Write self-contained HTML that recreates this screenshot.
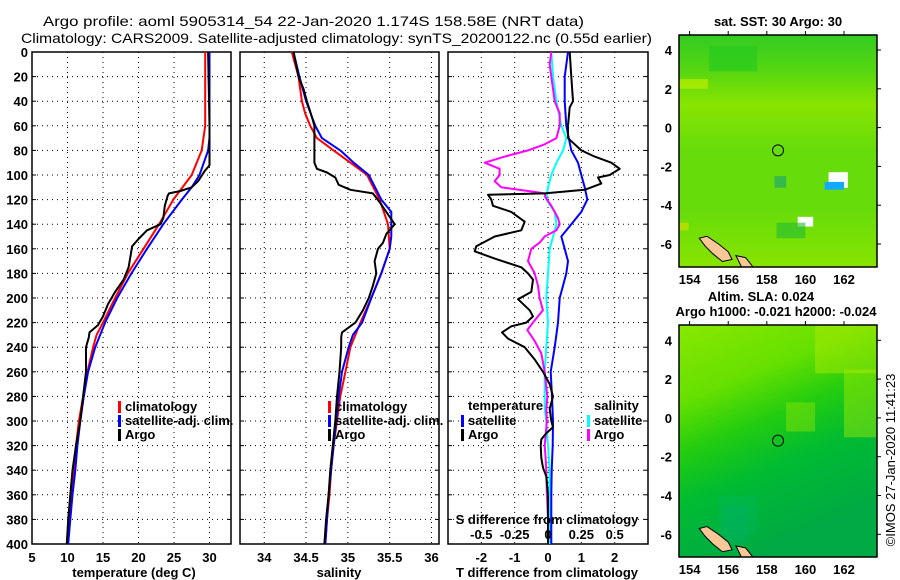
<!DOCTYPE html>
<html><head><meta charset="utf-8"><style>
body{margin:0;background:#fff}
svg{display:block;font-family:"Liberation Sans",sans-serif}
.t{font-size:13px;font-weight:bold}
</style></head><body>
<svg id="c" width="900" height="580" viewBox="0 0 900 580">
<text x="43" y="26" font-size="14" textLength="541" lengthAdjust="spacingAndGlyphs">Argo profile: aoml 5905314_54 22-Jan-2020 1.174S 158.58E (NRT data)</text>
<text x="21" y="43" font-size="14" textLength="631" lengthAdjust="spacingAndGlyphs">Climatology: CARS2009. Satellite-adjusted climatology: synTS_20200122.nc (0.55d earlier)</text>
<g id="g"></g>
</svg>
<script>
// depth grids
const tDep=[0,60,80,100,120,140,160,180,200,220,230,240,260,280,300,320,340,360,380,400];
const tClim=[29.4,29.4,28.9,27.5,24.9,22.9,20.7,18.5,16.7,15.0,14.1,13.6,12.8,12.2,11.6,11.2,10.9,10.6,10.2,9.9];
const tSatDep=[0,70,80,100,110,120,140,160,180,200,220,240,260,280,300,320,340,360,380,400];
const tSat=[30.0,30.0,29.8,28.6,27.5,26.1,23.5,21.2,19.0,17.0,15.3,13.9,12.9,12.3,11.8,11.4,11.1,10.7,10.4,10.1];
const tArgoDep=[0,60,92,97,105,110,113,115,117,125,135,140,145,152,158,165,175,185,195,205,215,222,228,232,240,260,280,300,320,340,360,380,400];
const tArgo=[29.8,30.0,30.0,29.3,28.4,27.5,25.9,24.3,24.1,23.7,23.5,23.1,21.2,20.0,19.1,18.9,18.6,17.9,16.7,15.7,15.0,14.3,13.1,13.0,12.6,12.6,12.2,11.8,11.2,10.7,10.4,10.1,9.9];
const sDep=[0,20,40,50,60,70,80,90,100,120,140,160,180,200,220,230,240,260,280,300,320,340,360,380,400];
const sClim=[34.33,34.41,34.45,34.49,34.55,34.63,34.83,35.03,35.23,35.38,35.48,35.50,35.40,35.28,35.15,35.09,35.03,34.97,34.91,34.87,34.83,34.80,34.78,34.75,34.73];
const sSatDep=[0,20,40,60,70,80,90,100,120,130,140,150,160,180,200,220,230,240,260,280,300,320,340,360,380,400];
const sSat=[34.35,34.42,34.50,34.61,34.69,34.91,35.07,35.25,35.40,35.52,35.52,35.52,35.50,35.40,35.28,35.17,35.06,35.01,34.93,34.89,34.86,34.83,34.80,34.77,34.75,34.73];
const sArgoDep=[0,20,30,40,55,60,90,95,98,102,108,112,115,122,130,140,148,155,160,170,180,190,200,210,220,228,232,240,260,280,300,320,340,360,380,400];
const sArgo=[34.35,34.41,34.47,34.51,34.58,34.60,34.60,34.63,34.75,34.85,34.89,35.03,35.30,35.38,35.46,35.56,35.46,35.42,35.36,35.32,35.34,35.30,35.25,35.18,35.09,34.93,34.92,34.92,34.90,34.87,34.85,34.82,34.79,34.77,34.74,34.72];
const dTSatDep=[0,20,40,60,80,90,100,110,120,130,140,150,160,170,180,190,200,220,240,260,280,300,320,340,360,400];
const dTSat=[0.6,0.5,0.5,0.55,0.7,0.9,1.0,1.1,1.18,1.0,0.7,0.4,0.5,0.6,0.55,0.45,0.35,0.3,0.2,0.08,0.12,0.15,0.14,0.11,0.1,0.1];
const dTArgoDep=[0,20,40,45,60,70,75,80,85,90,95,100,102,107,112,115,116,120,125,130,138,145,150,158,162,168,175,180,185,195,201,210,215,220,223,228,233,240,250,260,270,280,290,300,305,310,315,320,330,338,345,360,400];
const dTArgo=[0.65,0.7,0.75,0.65,0.6,0.6,0.8,1.0,1.4,1.9,2.15,1.85,1.5,1.6,1.1,-0.1,-1.8,-1.7,-1.65,-1.1,-0.7,-0.8,-1.6,-2.15,-2.2,-1.6,-0.8,-0.6,-0.45,-0.5,-0.9,-0.55,-0.45,-0.65,-1.1,-1.38,-1.2,-0.7,-0.4,-0.15,0.05,0.15,0.05,0.1,0.15,-0.05,-0.2,-0.22,-0.2,-0.15,-0.05,0,0];
const dSSatDep=[0,20,40,60,70,80,90,100,110,120,130,140,150,160,180,200,220,240,260,280,290,300,320,340,360,400];
const dSSat=[0.025,0.038,0.063,0.1,0.138,0.113,0.063,0.025,0,-0.013,0.05,0.063,0.038,0.013,0,-0.013,0,-0.013,-0.025,-0.025,-0.025,-0.013,0,0.013,0.01,0.013];
const dSArgoDep=[0,10,20,40,50,60,70,75,80,85,90,95,100,105,110,113,115,118,125,130,135,140,145,150,155,160,170,180,190,200,210,220,226,235,245,260,280,290,300,320,330,340,360,380,400];
const dSArgo=[0.025,0.013,0.025,0.05,0.088,0.088,0.063,-0.025,-0.15,-0.325,-0.475,-0.363,-0.363,-0.4,-0.35,-0.15,-0.025,-0.02,0.025,0.05,0.075,0.088,0.063,-0.025,-0.063,-0.125,-0.15,-0.1,-0.075,-0.063,-0.038,-0.113,-0.155,-0.1,-0.05,-0.025,-0.005,-0.013,-0.008,-0.025,-0.018,-0.013,-0.008,0,0];
const tTicks=[5,10,15,20,25,30];
const sTicks=[34,34.5,35,35.5,36];
const dTicks=[-2,-1,0,1,2];
const dSTicks=[-0.5,-0.25,0,0.25,0.5];
const depthTicks=[0,20,40,60,80,100,120,140,160,180,200,220,240,260,280,300,320,340,360,380,400];
const latTicks=[4,2,0,-2,-4,-6];
const lonTicks=[154,156,158,160,162];
const argoLon=158.58, argoLat=-1.174;

const NS='http://www.w3.org/2000/svg';
const g=document.getElementById('g');
function el(tag,attrs,parent){const e=document.createElementNS(NS,tag);for(const k in attrs)e.setAttribute(k,attrs[k]);(parent||g).appendChild(e);return e;}
const Y0=52,Y1=544;
const yD=d=>Y0+(Y1-Y0)*d/400;
const panels=[
 {x0:32,x1:231,min:5,max:33.03,name:'temperature-panel'},
 {x0:240,x1:439,min:33.71,max:36.09,name:'salinity-panel'},
 {x0:448,x1:648,min:-3,max:3,name:'difference-panel'}];
panels.forEach(p=>{p.sx=v=>p.x0+(p.x1-p.x0)*(v-p.min)/(p.max-p.min);});
function frame(p,ticks,labels,xtitle,cx){
 const grp=el('g',{});
 
 
 ticks.forEach(v=>{const x=p.sx(v);
  const l=el('line',{x1:x,x2:x,y1:Y0,y2:Y1,stroke:'#000','stroke-dasharray':'1,4'},grp);
  
  if(labels){const t=el('text',{x:x,y:562,'text-anchor':'middle',class:'t'},grp);t.textContent=String(v);
  }
 });
 depthTicks.forEach(d=>{if(d===0||d===400)return;const y=yD(d);
  const l=el('line',{x1:p.x0,x2:p.x1,y1:y,y2:y,stroke:'#000','stroke-dasharray':'1,4'},grp);
  
  el('line',{x1:p.x0,x2:p.x0+4,y1:y,y2:y,stroke:'#000'},grp);el('line',{x1:p.x1-4,x2:p.x1,y1:y,y2:y,stroke:'#000'},grp);});
 const r=el('rect',{x:p.x0,y:Y0,width:p.x1-p.x0,height:Y1-Y0,fill:'none',stroke:'#000','stroke-width':1.5},grp);
 
 const tt=el('text',{x:cx,y:577,'text-anchor':'middle',class:'t'},grp);tt.textContent=xtitle;
 
 return grp;
}
frame(panels[0],tTicks,true,'temperature (deg C)',134);
frame(panels[1],sTicks,true,'salinity',339);
frame(panels[2],dTicks,true,'T difference from climatology',547);
depthTicks.forEach(d=>{const t=el('text',{x:28,y:yD(d)+5,'text-anchor':'end',class:'t'});t.textContent=d;
 });
function series(p,deps,vals,color,name,w,scale){
 const pts=deps.map((d,i)=>p.sx(vals[i]*(scale||1)).toFixed(1)+','+yD(d).toFixed(1)).join(' ');
 const pl=el('polyline',{points:pts,fill:'none',stroke:color,'stroke-width':w||2,'stroke-linejoin':'round'});
 
}
series(panels[0],tDep,tClim,'#f00','temp-climatology-line');
series(panels[0],tSatDep,tSat,'#00f','temp-satellite-adj-line');
series(panels[0],tArgoDep,tArgo,'#000','temp-argo-line');
series(panels[1],sDep,sClim,'#f00','sal-climatology-line');
series(panels[1],sSatDep,sSat,'#00f','sal-satellite-adj-line');
series(panels[1],sArgoDep,sArgo,'#000','sal-argo-line');
series(panels[2],dSSatDep,dSSat,'#0ff','sdiff-satellite-line',2,4);
series(panels[2],dSArgoDep,dSArgo,'#f0f','sdiff-argo-line',2,4);
series(panels[2],dTSatDep,dTSat,'#00f','tdiff-satellite-line');
series(panels[2],dTArgoDep,dTArgo,'#000','tdiff-argo-line');
function legend(x,y,color,label,name){
 const r=el('rect',{x:x,y:y-10,width:3,height:12,fill:color});
 
 const t=el('text',{x:x+7,y:y,class:'t'});t.textContent=label;
 
}
legend(118,411,'#f00','climatology','legend-climatology');
legend(118,425,'#00f','satellite-adj. clim.','legend-satellite-adj');
legend(118,439,'#000','Argo','legend-argo');
legend(328,411,'#f00','climatology','legend-sal-climatology');
legend(328,425,'#00f','satellite-adj. clim.','legend-sal-satellite-adj');
legend(328,439,'#000','Argo','legend-sal-argo');
(function(){const t=el('text',{x:468,y:410,class:'t'});t.textContent='temperature';
 
 const s=el('text',{x:594,y:410,class:'t'});s.textContent='salinity';
 })();
legend(461,425,'#00f','satellite','legend-tdiff-satellite');
legend(461,439,'#000','Argo','legend-tdiff-argo');
legend(587,425,'#0ff','satellite','legend-sdiff-satellite');
legend(587,439,'#f0f','Argo','legend-sdiff-argo');
(function(){const t=el('text',{x:547,y:524,'text-anchor':'middle',class:'t'});t.textContent='S difference from climatology';
 
 dSTicks.forEach(v=>{const x=panels[2].sx(v*4);const l=el('text',{x:x,y:539,'text-anchor':'middle',class:'t'});l.textContent=String(v);
  });})();

// maps
function map(m){
 const grp=el('g',{});
 
 const lx=lon=>m.x0+(lon-153.45)*19.3, ly=lat=>m.ylat4+(4-lat)*19.4;
 const cp=el('clipPath',{id:m.name+'-clip'},grp);el('rect',{x:m.x0,y:m.y0,width:m.x1-m.x0,height:m.y1-m.y0},cp);
 const inner=el('g',{'clip-path':'url(#'+m.name+'-clip)'},grp);
 el('rect',{x:m.x0,y:m.y0,width:m.x1-m.x0,height:m.y1-m.y0,fill:'url(#'+m.name+'-grad)'},inner);
 m.patches.forEach(pt=>{el('rect',{x:lx(pt[0]),y:ly(pt[1]),width:pt[2]*19.3,height:pt[3]*19.4,fill:pt[4],opacity:pt[5]||1},inner);});
 const land=el('polygon',{points:[[154.5,-5.7],[154.9,-5.6],[155.5,-6.0],[156.0,-6.4],[156.2,-6.8],[155.7,-6.9],[155.2,-6.5],[154.8,-6.1]].map(a=>lx(a[0])+','+ly(a[1])).join(' '),fill:'#fac896',stroke:'#000','stroke-width':1},inner);
 
 el('polygon',{points:[[156.4,-6.6],[156.9,-6.7],[157.3,-7.2],[156.7,-7.2]].map(a=>lx(a[0])+','+ly(a[1])).join(' '),fill:'#fac896',stroke:'#000','stroke-width':1},inner);
 const c=el('circle',{cx:lx(argoLon),cy:ly(argoLat),r:5.5,fill:'none',stroke:'#000','stroke-width':1},inner);
 
 const b=el('rect',{x:m.x0,y:m.y0,width:m.x1-m.x0,height:m.y1-m.y0,fill:'none',stroke:'#000','stroke-width':1.5},grp);
 
 latTicks.forEach(v=>{const y=ly(v);const t=el('text',{x:m.x0-7,y:y+5,'text-anchor':'end',class:'t'},grp);t.textContent=v;
  
  el('line',{x1:m.x1,x2:m.x1+4,y1:y,y2:y,stroke:'#000'},grp);});
 lonTicks.forEach(v=>{const x=lx(v);const t=el('text',{x:x,y:m.y1+17,'text-anchor':'middle',class:'t'},grp);t.textContent=v;
  
  el('line',{x1:x,x2:x,y1:m.y0-4,y2:m.y0,stroke:'#000'},grp);});
}
const defs=el('defs',{});
const g1=el('linearGradient',{id:'sst-map-grad',x1:0,y1:0,x2:0,y2:1},defs);
[[0,'#33cc22'],[0.15,'#55d611'],[0.3,'#88e400'],[0.5,'#66dc0a'],[0.75,'#66dc0a'],[1,'#88e400']].forEach(s=>el('stop',{offset:s[0],'stop-color':s[1]},g1));
const g2=el('linearGradient',{id:'sla-map-grad',x1:0,y1:0,x2:0.35,y2:1},defs);
[[0,'#88e800'],[0.3,'#66e000'],[0.5,'#22cc10'],[0.7,'#00bb33'],[1,'#00aa44']].forEach(s=>el('stop',{offset:s[0],'stop-color':s[1]},g2));
map({name:'sst-map',x0:679,x1:877,y0:35,y1:267,ylat4:50,patches:[
 [155,4.2,2.5,1.3,'#22c822',0.6],[153.45,2.5,1.5,0.5,'#bbee00',0.7],[161.2,-2.3,1,0.8,'#fff'],[161,-2.8,1,0.4,'#11aaff'],[158.4,-2.5,0.6,0.6,'#22aa66',0.7],[159.6,-4.6,0.8,0.5,'#fff'],[158.5,-4.9,1.5,0.8,'#22bb33',0.6],[153.45,-4.9,0.5,0.4,'#ccdd00',0.7]]});
map({name:'sla-map',x0:679,x1:877,y0:325,y1:557,ylat4:340.3,patches:[
 [160.5,4.8,3.3,2.5,'#b4ec00',0.45],[162,2.5,1.8,3.5,'#a8ea00',0.45],[159,0.8,1.5,1.5,'#a0e800',0.4],[155.5,-4,2,2,'#00b860',0.35],[155.8,-4.5,1.2,2,'#00b070',0.35]]});
(function(){
 const a=el('text',{x:778,y:26,'text-anchor':'middle',class:'t'});a.textContent='sat. SST: 30 Argo: 30';
 
 const b=el('text',{x:761,y:301,'text-anchor':'middle',class:'t'});b.textContent='Altim. SLA: 0.024';
 
 const c=el('text',{x:776,y:316,'text-anchor':'middle',class:'t'});c.textContent='Argo h1000: -0.021 h2000: -0.024';
 
 const d=el('text',{x:0,y:0,'text-anchor':'middle','font-size':'13',transform:'translate(895,460) rotate(-90)'});d.textContent='©IMOS 27-Jan-2020 11:41:23';
 
})();
</script>
</body></html>
